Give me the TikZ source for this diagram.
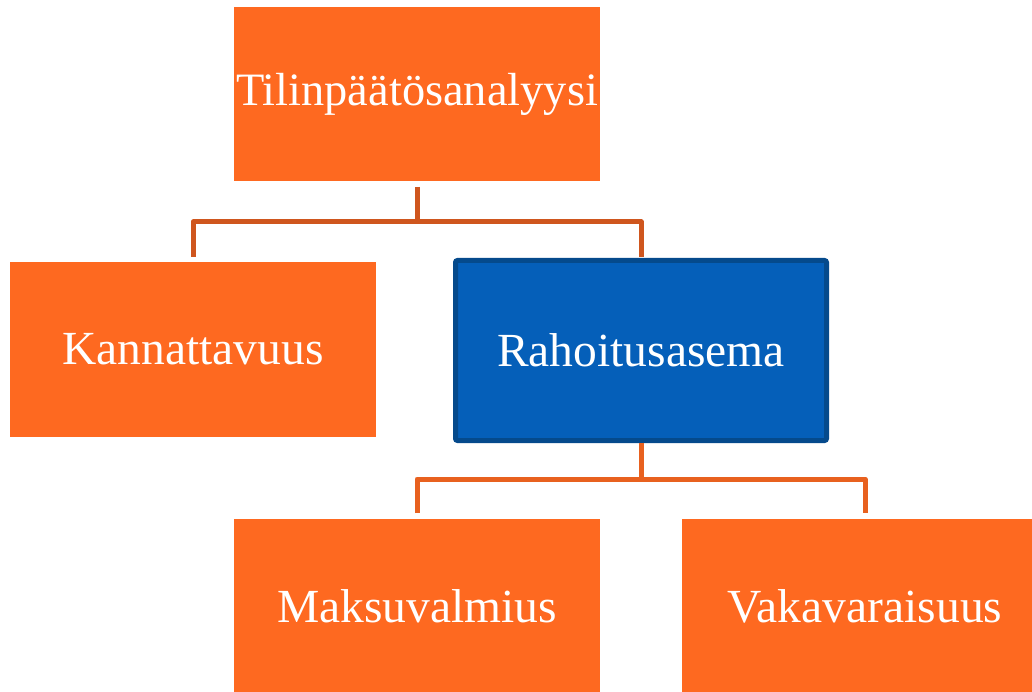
\documentclass[tikz,border=0pt]{standalone}
\usepackage{fontspec}
\setmainfont{Liberation Serif}
\definecolor{boxorange}{HTML}{FE6920}
\definecolor{boxblue}{HTML}{055FB9}
\definecolor{blueedge}{HTML}{054A8C}
\definecolor{connA}{HTML}{CF561E}
\definecolor{connB}{HTML}{E8611F}
\begin{document}
\begin{tikzpicture}[x=1pt,y=-1pt,
  obox/.style={fill=boxorange,draw=none,minimum width=366pt,minimum height=174pt,inner sep=0pt,outer sep=0pt,
    text=white,font=\fontsize{47.5}{52}\selectfont},
  bbox/.style={fill=boxblue,draw=blueedge,line width=5pt,rounded corners=2pt,minimum width=371pt,minimum height=180pt,
    inner sep=0pt,outer sep=2.5pt,text=white,font=\fontsize{47.5}{52}\selectfont},
  connone/.style={draw=connA,line width=5pt,line join=round},
  conntwo/.style={draw=connB,line width=5pt,line join=round}]
\useasboundingbox (0,0) rectangle (1032,692);
\clip (0,0) rectangle (1032,692);
\node[obox] (tilin) at (417,94) {\fontsize{46.4}{52}\selectfont Tilinpäätösanalyysi};
\node[obox,minimum height=175pt] (kann) at (193,349.5) {Kannattavuus};
\node[bbox] (raho) at (641,350.5) {Rahoitusasema};
\node[obox] (maksu) at (417,606) {Maksuvalmius};
\node[obox] (vaka) at (865,606) {Vakavaraisuus};
\coordinate (j1) at (417,222);
\coordinate (j2) at (641,479);
\draw[connone] ([yshift=-6pt]tilin.south) -- (j1);
\draw[connone] ([yshift=5pt]kann.north) |- (j1) -| ([yshift=1pt]raho.north);
\draw[conntwo] (raho.south) -- (j2);
\draw[conntwo] ([yshift=6pt]maksu.north) |- (j2) -| ([yshift=6pt]vaka.north);
\end{tikzpicture}
\end{document}
